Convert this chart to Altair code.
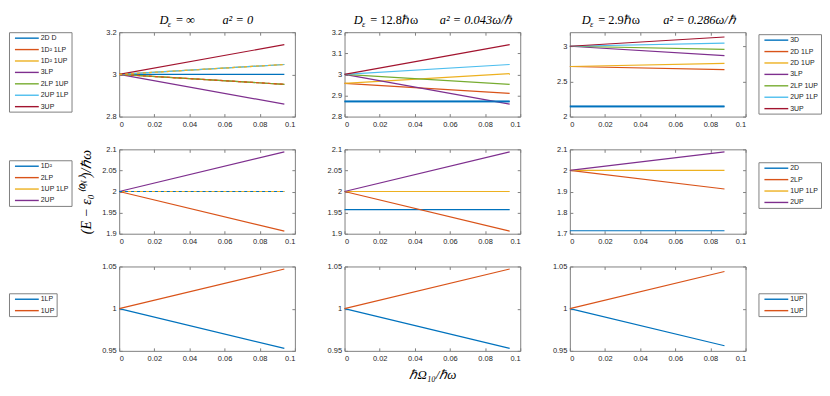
import altair as alt
import pandas as pd

PALETTE = ["#0072BD", "#D95319", "#EDB120", "#7E2F8E", "#77AC30", "#4DBEEE", "#A2142F"]

X_TICKS = [0, 0.02, 0.04, 0.06, 0.08, 0.1]
X_END = [0.094, 0.094, 0.088]

# ---- row 1 (three-excitation manifold) ----
R1_NAMES_LEFT = ["2D D", "1D² 1LP", "1D² 1UP", "3LP", "2LP 1UP", "2UP 1LP", "3UP"]
R1_NAMES_RIGHT = ["3D", "2D 1LP", "2D 1UP", "3LP", "2LP 1UP", "2UP 1LP", "3UP"]
R1_START = [
    [3.0, 3.0, 3.0, 3.0, 3.0, 3.0, 3.0],
    [2.872, 2.957, 2.957, 3.0, 3.0, 3.0, 3.0],
    [2.144, 2.712, 2.712, 3.0, 3.0, 3.0, 3.0],
]
R1_END = [
    [3.0, 2.953, 3.047, 2.859, 2.953, 3.047, 3.141],
    [2.872, 2.910, 3.004, 2.859, 2.953, 3.047, 3.141],
    [2.144, 2.668, 2.756, 2.868, 2.956, 3.044, 3.132],
]
R1_YDOM = [[2.8, 3.2], [2.8, 3.2], [2.0, 3.2]]
R1_YTICKS = [[2.8, 3.0, 3.2], [2.8, 2.9, 3.0, 3.1, 3.2], [2.0, 2.5, 3.0]]

# ---- row 2 (two-excitation manifold) ----
R2_NAMES_LEFT = ["1D²", "2LP", "1UP 1LP", "2UP"]
R2_NAMES_RIGHT = ["2D", "2LP", "1UP 1LP", "2UP"]
R2_START = [
    [2.0, 2.0, 2.0, 2.0],
    [1.957, 2.0, 2.0, 2.0],
    [1.714, 2.0, 2.0, 2.0],
]
R2_END = [
    [2.0, 1.906, 2.0, 2.094],
    [1.957, 1.906, 2.0, 2.094],
    [1.714, 1.912, 2.0, 2.088],
]
R2_YDOM = [[1.9, 2.1], [1.9, 2.1], [1.7, 2.1]]
R2_YTICKS = [[1.9, 1.95, 2.0, 2.05, 2.1], [1.9, 1.95, 2.0, 2.05, 2.1], [1.7, 1.8, 1.9, 2.0, 2.1]]

# ---- row 3 (one-excitation manifold) ----
R3_NAMES = ["1LP", "1UP"]
R3_START = [[1.0, 1.0], [1.0, 1.0], [1.0, 1.0]]
R3_END = [[0.953, 1.047], [0.953, 1.047], [0.956, 1.044]]
R3_YDOM = [[0.95, 1.05]] * 3
R3_YTICKS = [[0.95, 1.0, 1.05]] * 3

TITLE_D = ["= ∞", "= 12.8ℏω", "= 2.9ℏω"]
TITLE_A = ["a² = 0", "a² = 0.043ω/ℏ", "a² = 0.286ω/ℏ"]
Y_TITLE = "(E − ε₀⁽⁰ᴺ⁾)/ℏω"
X_TITLE = "ℏΩ₁₀/ℏω"

W, H = 177, 85
AXIS_GRAY = "#808080"
SERIF = "Liberation Serif"
SANS = "Liberation Sans"

TITLE_DX = [40.7, 9.3, 12.0]
TITLE_ADX = [104.0, 96.0, 94.0]


def make_legend(x, y, label_expr=None):
    kw = dict(
        orient="none", legendX=x, legendY=y, title=None,
        strokeColor=AXIS_GRAY, fillColor="white", padding=2,
        symbolType="M0,0H8", symbolSize=36, symbolStrokeWidth=1.4,
        labelFont=SANS, labelFontSize=7, labelColor="#222222",
        labelOffset=22, rowPadding=4.5, cornerRadius=0,
    )
    if label_expr:
        kw["labelExpr"] = label_expr
    return alt.Legend(**kw)


def panel(col, names, start, end, ydom, yticks, legend=None, overlays=(), thick=(),
          ytitle=None, xtitle=None, with_title=False):
    n = len(names)
    xend = X_END[col]
    df = pd.DataFrame({
        "series": names + names,
        "x": [0.0] * n + [xend] * n,
        "y": start + end,
    })
    xscale = alt.Scale(domain=[0, 0.1], nice=False, zero=False)
    yscale = alt.Scale(domain=ydom, nice=False, zero=False)
    xaxis_kw = dict(values=X_TICKS, format="~g", offset=-3, tickSize=3, domain=False,
                    grid=False, labelPadding=4, tickColor=AXIS_GRAY)
    yaxis_kw = dict(values=yticks, format="~g", offset=-3, tickSize=3, domain=False,
                    grid=False, labelPadding=3, tickColor=AXIS_GRAY)
    if xtitle:
        xaxis_kw.update(title=xtitle, titleFont=SERIF, titleFontStyle="italic",
                        titleFontSize=13, titleFontWeight="normal", titlePadding=6,
                        titleColor="#000000")
    else:
        xaxis_kw["title"] = None
    if ytitle:
        yaxis_kw.update(title=ytitle, titleFont=SERIF, titleFontStyle="italic",
                        titleFontSize=14, titleFontWeight="normal", titleX=-36,
                        titleY=H / 2, titleAlign="center", titleBaseline="middle",
                        titleAngle=270, titleColor="#000000")
    else:
        yaxis_kw["title"] = None

    color_kw = dict(scale=alt.Scale(domain=names, range=PALETTE[:n]), sort=names)
    if legend is not None:
        color_kw["legend"] = legend
    else:
        color_kw["legend"] = None

    base = alt.Chart(df).mark_line(strokeWidth=1.2).encode(
        x=alt.X("x:Q", scale=xscale, axis=alt.Axis(**xaxis_kw)),
        y=alt.Y("y:Q", scale=yscale, axis=alt.Axis(**yaxis_kw)),
        color=alt.Color("series:N", **color_kw),
    )
    layers = [base]
    for name in thick:
        idx = names.index(name)
        layers.append(
            alt.Chart(df).transform_filter(alt.datum.series == name)
            .mark_line(strokeWidth=2.0, color=PALETTE[idx], opacity=0.85)
            .encode(x=alt.X("x:Q", axis=None), y=alt.Y("y:Q", axis=None))
        )
    for name in overlays:
        idx = names.index(name)
        layers.append(
            alt.Chart(df).transform_filter(alt.datum.series == name)
            .mark_line(strokeWidth=1.2, strokeDash=[3, 3], color=PALETTE[idx])
            .encode(x=alt.X("x:Q", axis=None), y=alt.Y("y:Q", axis=None))
        )
    frame = alt.Chart(df).mark_line(opacity=0).encode(
        x=alt.X("x:Q", axis=alt.Axis(orient="top", values=X_TICKS, labels=False, offset=-3,
                                      tickSize=3, domain=False, grid=False, title=None,
                                      tickColor=AXIS_GRAY)),
        y=alt.Y("y:Q", axis=alt.Axis(orient="right", values=yticks, labels=False, offset=-3,
                                      tickSize=3, domain=False, grid=False, title=None,
                                      tickColor=AXIS_GRAY)),
        detail="series:N",
    )
    layers.append(frame)
    if with_title:
        one = pd.DataFrame({"k": [0]})
        tx = TITLE_DX[col]
        layers.append(alt.Chart(one).mark_text(
            font=SERIF, fontStyle="italic", fontSize=12.5, align="left", baseline="alphabetic",
            color="#000000").encode(x=alt.value(tx), y=alt.value(-8), text=alt.value("D")))
        layers.append(alt.Chart(one).mark_text(
            font=SERIF, fontStyle="italic", fontSize=8.5, align="left", baseline="alphabetic",
            color="#000000").encode(x=alt.value(tx + 8.3), y=alt.value(-5), text=alt.value("ε")))
        layers.append(alt.Chart(one).mark_text(
            font=SERIF, fontSize=12.5, align="left", baseline="alphabetic",
            color="#000000").encode(x=alt.value(tx + 16.5), y=alt.value(-8),
                                    text=alt.value(TITLE_D[col])))
        layers.append(alt.Chart(one).mark_text(
            font=SERIF, fontStyle="italic", fontSize=12.5, align="left", baseline="alphabetic",
            color="#000000").encode(x=alt.value(TITLE_ADX[col]), y=alt.value(-8),
                                    text=alt.value(TITLE_A[col])))
    return alt.layer(*layers).resolve_scale(x="shared", y="shared").resolve_axis(
        x="independent", y="independent").properties(width=W, height=H)


LEFT_X = -111
RIGHT_X = W + 13

panels = [
    panel(0, R1_NAMES_LEFT, R1_START[0], R1_END[0], R1_YDOM[0], R1_YTICKS[0],
          legend=make_legend(LEFT_X, 0), overlays=["1D² 1LP", "1D² 1UP"], with_title=True),
    panel(1, R1_NAMES_LEFT, R1_START[1], R1_END[1], R1_YDOM[1], R1_YTICKS[1],
          thick=["2D D"], with_title=True),
    panel(2, R1_NAMES_RIGHT, R1_START[2], R1_END[2], R1_YDOM[2], R1_YTICKS[2],
          legend=make_legend(RIGHT_X, 2), thick=["3D"], with_title=True),
    panel(0, R2_NAMES_LEFT, R2_START[0], R2_END[0], R2_YDOM[0], R2_YTICKS[0],
          legend=make_legend(LEFT_X, 11), overlays=["1D²"], ytitle=Y_TITLE),
    panel(1, R2_NAMES_LEFT, R2_START[1], R2_END[1], R2_YDOM[1], R2_YTICKS[1]),
    panel(2, R2_NAMES_RIGHT, R2_START[2], R2_END[2], R2_YDOM[2], R2_YTICKS[2],
          legend=make_legend(RIGHT_X, 13)),
    panel(0, R3_NAMES, R3_START[0], R3_END[0], R3_YDOM[0], R3_YTICKS[0],
          legend=make_legend(LEFT_X, 27)),
    panel(1, R3_NAMES, R3_START[1], R3_END[1], R3_YDOM[1], R3_YTICKS[1], xtitle=X_TITLE),
    panel(2, R3_NAMES, R3_START[2], R3_END[2], R3_YDOM[2], R3_YTICKS[2],
          legend=make_legend(RIGHT_X, 27, label_expr="datum.label == '1LP' ? '1UP' : datum.label")),
]

chart = alt.concat(
    *panels, columns=3, spacing={"row": 33, "column": 50}, bounds="flush"
).resolve_scale(
    color="independent", x="independent", y="independent"
).properties(
    padding={"left": 0, "top": 4, "right": 0, "bottom": 0}
).configure_view(
    stroke=AXIS_GRAY, strokeWidth=1
).configure_axis(
    labelFont=SANS, labelFontSize=7.5, labelColor="#262626"
)

chart.save("out.html", embed_options={"renderer": "svg", "actions": False})
